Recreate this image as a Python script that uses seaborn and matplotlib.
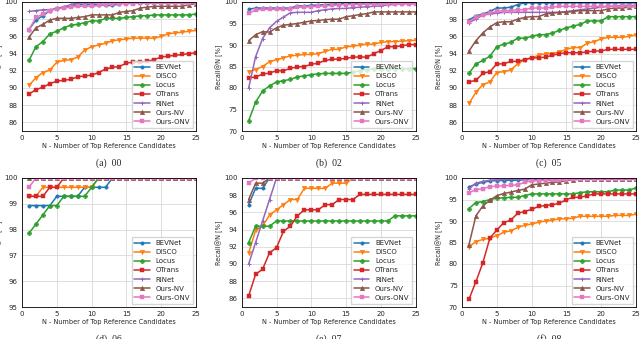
import matplotlib
matplotlib.use("Agg")
import matplotlib.pyplot as plt
import numpy as np
import seaborn as sns

N = list(range(1, 26))
METHODS = ["BEVNet", "DISCO", "Locus", "OTrans", "RINet", "Ours-NV", "Ours-ONV"]
COLORS = ["#1f77b4", "#ff7f0e", "#2ca02c", "#d62728", "#9467bd", "#8c564b", "#e377c2"]
MARKERS = [".", "v", "P", "s", "+", "^", "s"]

# ---- sequence 00 ----
s00_bevnet = [96.8, 97.9, 98.4, 99.0, 99.3, 99.4, 99.6, 99.7, 99.7, 99.7, 99.7, 99.6, 99.6,
              99.8, 99.9, 99.9, 99.9, 99.9, 99.9, 99.9, 99.9, 99.9, 99.9, 99.9, 99.9]
s00_disco = [90.3, 91.2, 91.8, 92.1, 93.0, 93.2, 93.3, 93.6, 94.4, 94.8, 95.0, 95.2, 95.5,
             95.6, 95.7, 95.8, 95.8, 95.8, 95.8, 96.0, 96.3, 96.4, 96.5, 96.6, 96.7]
s00_locus = [93.2, 94.8, 95.4, 96.3, 96.6, 97.0, 97.3, 97.4, 97.6, 97.8, 97.8, 98.1, 98.1,
             98.1, 98.2, 98.3, 98.4, 98.4, 98.5, 98.5, 98.5, 98.5, 98.5, 98.5, 98.6]
s00_otrans = [89.3, 89.8, 90.1, 90.5, 90.8, 90.9, 91.0, 91.3, 91.4, 91.5, 91.8, 92.2, 92.4,
              92.5, 92.9, 93.0, 93.0, 93.1, 93.3, 93.6, 93.7, 93.8, 93.9, 94.0, 94.1]
s00_rinet = [98.9, 99.0, 99.1, 99.1, 99.2, 99.4, 99.7, 99.9, 99.9, 99.9, 99.9, 99.9, 99.9,
             99.9, 99.9, 100.0, 100.0, 100.0, 100.0, 100.0, 100.0, 100.0, 100.0, 100.0, 100.0]
s00_oursnv = [95.9, 97.0, 97.4, 97.9, 98.1, 98.1, 98.1, 98.2, 98.3, 98.5, 98.5, 98.5, 98.5,
              98.8, 98.9, 99.0, 99.3, 99.4, 99.5, 99.5, 99.5, 99.5, 99.5, 99.7, 99.8]
s00_oursonv = [96.8, 98.2, 98.6, 99.0, 99.2, 99.3, 99.4, 99.5, 99.5, 99.5, 99.6, 99.7, 99.8,
               99.8, 99.8, 99.8, 99.9, 99.9, 99.9, 99.9, 99.9, 99.9, 99.9, 99.9, 99.9]

# ---- sequence 02 ----
s02_bevnet = [98.3, 98.6, 98.6, 98.6, 98.6, 98.6, 98.6, 99.1, 99.1, 99.2, 99.3, 99.4, 99.5,
              99.6, 99.7, 99.7, 99.7, 99.7, 99.7, 99.8, 99.8, 99.8, 99.8, 99.8, 99.8]
s02_disco = [83.8, 84.3, 85.0, 86.1, 86.6, 87.0, 87.5, 87.6, 87.8, 87.8, 88.0, 88.5, 89.0,
             89.0, 89.6, 89.7, 90.0, 90.2, 90.2, 90.6, 90.8, 90.8, 90.9, 91.0, 91.1]
s02_locus = [72.4, 76.7, 79.3, 80.5, 81.4, 81.7, 82.0, 82.6, 82.8, 83.1, 83.3, 83.4, 83.4,
             83.4, 83.4, 83.7, 84.0, 84.3, 84.5, 84.5, 84.5, 84.5, 84.5, 84.5, 84.5]
s02_otrans = [82.3, 82.6, 83.2, 83.5, 84.0, 84.0, 84.6, 84.9, 85.0, 85.5, 85.8, 86.4, 86.7,
              86.7, 86.9, 87.2, 87.2, 87.2, 88.0, 88.7, 89.6, 89.6, 89.8, 90.1, 90.1]
s02_rinet = [80.0, 87.3, 91.5, 94.0, 95.5, 96.5, 97.5, 97.6, 97.6, 97.6, 98.0, 98.2, 98.4,
             98.5, 98.5, 98.7, 98.8, 98.9, 99.0, 99.1, 99.3, 99.5, 99.6, 99.6, 99.6]
s02_oursnv = [91.0, 92.4, 93.1, 93.0, 94.0, 94.6, 94.8, 95.0, 95.3, 95.6, 95.7, 95.9, 96.0,
              96.0, 96.6, 96.8, 97.1, 97.3, 97.7, 97.7, 97.7, 97.7, 97.7, 97.7, 97.7]
s02_oursonv = [97.4, 98.1, 98.3, 98.3, 98.3, 98.3, 98.3, 98.8, 98.8, 98.9, 99.0, 99.1, 99.2,
               99.3, 99.4, 99.4, 99.5, 99.5, 99.5, 99.5, 99.6, 99.6, 99.6, 99.6, 99.6]

# ---- sequence 05 ----
s05_bevnet = [97.9, 98.4, 98.6, 98.9, 99.3, 99.3, 99.4, 99.7, 99.9, 99.9, 99.9, 99.9, 99.9,
              99.9, 99.9, 99.9, 99.9, 99.9, 99.9, 99.9, 99.9, 99.9, 99.9, 99.9, 99.9]
s05_disco = [88.2, 89.5, 90.4, 90.7, 91.8, 91.9, 92.1, 92.8, 93.3, 93.5, 93.8, 94.0, 94.0,
             94.2, 94.5, 94.7, 94.7, 95.2, 95.4, 95.7, 95.9, 95.9, 95.9, 96.0, 96.2]
s05_locus = [91.7, 92.8, 93.2, 93.7, 94.8, 95.1, 95.3, 95.8, 95.8, 96.0, 96.2, 96.2, 96.4,
             96.7, 97.0, 97.2, 97.4, 97.8, 97.8, 97.8, 98.3, 98.3, 98.3, 98.3, 98.3]
s05_otrans = [90.7, 90.9, 91.7, 91.9, 92.8, 92.8, 93.1, 93.1, 93.3, 93.5, 93.5, 93.6, 93.8,
              94.0, 94.1, 94.1, 94.1, 94.2, 94.3, 94.3, 94.5, 94.5, 94.5, 94.5, 94.5]
s05_rinet = [97.6, 98.0, 98.5, 98.6, 98.7, 98.8, 98.8, 98.8, 98.8, 98.8, 98.8, 98.8, 98.8,
             98.8, 98.9, 99.0, 99.1, 99.2, 99.3, 99.4, 99.5, 99.5, 99.6, 99.6, 99.6]
s05_oursnv = [94.3, 95.5, 96.4, 97.1, 97.6, 97.7, 97.7, 98.0, 98.2, 98.3, 98.3, 98.6, 98.7,
              98.8, 98.8, 98.9, 99.0, 99.0, 99.0, 99.0, 99.2, 99.3, 99.3, 99.4, 99.5]
s05_oursonv = [97.7, 98.2, 98.5, 98.7, 98.9, 99.0, 99.0, 99.1, 99.1, 99.3, 99.3, 99.3, 99.4,
               99.5, 99.5, 99.5, 99.5, 99.5, 99.5, 99.5, 99.5, 99.5, 99.5, 99.5, 99.5]

# ---- sequence 06 ----
s06_bevnet = [98.93, 98.93, 98.93, 98.93, 99.29, 99.29, 99.29, 99.29, 99.64, 99.64, 99.64, 99.64,
              100, 100, 100, 100, 100, 100, 100, 100, 100, 100, 100, 100, 100]
s06_disco = [99.29, 99.29, 99.64, 99.64, 99.64, 99.64, 99.64, 99.64, 99.64, 99.64, 100, 100,
             100, 100, 100, 100, 100, 100, 100, 100, 100, 100, 100, 100, 100]
s06_locus = [97.86, 98.21, 98.57, 98.93, 98.93, 99.29, 99.29, 99.29, 99.29, 99.64, 100, 100,
             100, 100, 100, 100, 100, 100, 100, 100, 100, 100, 100, 100, 100]
s06_otrans = [99.29, 99.29, 99.29, 99.64, 99.64, 100, 100, 100, 100, 100, 100, 100,
              100, 100, 100, 100, 100, 100, 100, 100, 100, 100, 100, 100, 100]
s06_rinet = [100] * 25
s06_oursnv = [100] * 25
s06_oursonv = [99.64, 100, 100, 100, 100, 100, 100, 100, 100, 100, 100, 100,
               100, 100, 100, 100, 100, 100, 100, 100, 100, 100, 100, 100, 100]

# ---- sequence 07 ----
s07_bevnet = [96.9, 98.8, 98.8, 100, 100, 100, 100, 100, 100, 100, 100, 100, 100,
              100, 100, 100, 100, 100, 100, 100, 100, 100, 100, 100, 100]
s07_disco = [91.3, 93.9, 94.4, 95.7, 96.3, 96.9, 97.5, 97.5, 98.8, 98.8, 98.8, 98.8, 99.4,
             99.4, 99.4, 100, 100, 100, 100, 100, 100, 100, 100, 100, 100]
s07_locus = [92.5, 94.4, 94.4, 94.4, 95.0, 95.0, 95.0, 95.0, 95.0, 95.0, 95.0, 95.0, 95.0,
             95.0, 95.0, 95.0, 95.0, 95.0, 95.0, 95.0, 95.0, 95.6, 95.6, 95.6, 95.6]
s07_otrans = [86.3, 88.8, 89.4, 91.3, 91.9, 93.8, 94.4, 95.6, 96.3, 96.3, 96.3, 96.9, 96.9,
              97.5, 97.5, 97.5, 98.1, 98.1, 98.1, 98.1, 98.1, 98.1, 98.1, 98.1, 98.1]
s07_rinet = [90.0, 92.5, 95.0, 97.5, 100, 100, 100, 100, 100, 100, 100, 100, 100,
             100, 100, 100, 100, 100, 100, 100, 100, 100, 100, 100, 100]
s07_oursnv = [97.5, 99.4, 99.4, 100, 100, 100, 100, 100, 100, 100, 100, 100, 100,
              100, 100, 100, 100, 100, 100, 100, 100, 100, 100, 100, 100]
s07_oursonv = [99.4, 100, 100, 100, 100, 100, 100, 100, 100, 100, 100, 100, 100,
               100, 100, 100, 100, 100, 100, 100, 100, 100, 100, 100, 100]

# ---- sequence 08 ----
s08_bevnet = [97.9, 98.6, 99.0, 99.3, 99.4, 99.4, 99.5, 99.5, 99.6, 99.7, 99.7, 99.7, 99.7,
              99.8, 99.8, 99.8, 99.8, 99.8, 99.8, 99.8, 99.8, 99.8, 99.8, 99.8, 99.8]
s08_disco = [84.0, 85.2, 85.7, 86.0, 86.6, 87.4, 87.7, 88.5, 89.0, 89.3, 89.7, 90.0, 90.2,
             90.5, 90.5, 90.7, 91.1, 91.1, 91.1, 91.1, 91.1, 91.3, 91.3, 91.3, 91.6]
s08_locus = [92.9, 94.3, 94.5, 95.0, 95.3, 95.4, 95.5, 95.5, 95.9, 96.3, 96.3, 96.3, 96.3,
             96.3, 96.3, 96.3, 96.6, 96.8, 96.8, 96.8, 96.8, 97.2, 97.2, 97.2, 97.7]
s08_otrans = [71.8, 75.9, 80.3, 86.0, 87.9, 89.6, 90.2, 91.8, 92.2, 92.7, 93.4, 93.6, 93.8,
              94.1, 95.0, 95.5, 95.5, 95.9, 96.3, 96.3, 96.3, 96.3, 96.3, 96.3, 96.3]
s08_rinet = [97.5, 98.8, 99.2, 99.5, 99.6, 99.7, 99.7, 99.7, 99.7, 99.8, 99.8, 99.8, 99.8,
             99.8, 99.8, 99.8, 99.8, 99.8, 99.8, 99.8, 99.8, 99.8, 99.8, 99.8, 99.8]
s08_oursnv = [84.5, 91.2, 93.5, 94.8, 95.9, 96.4, 96.7, 97.1, 97.4, 98.4, 98.6, 98.8, 99.0,
              99.1, 99.4, 99.6, 99.7, 99.7, 99.7, 99.7, 99.7, 99.7, 99.7, 99.7, 99.7]
s08_oursonv = [96.6, 97.3, 97.5, 98.0, 98.1, 98.2, 98.3, 98.4, 99.0, 99.3, 99.4, 99.4, 99.5,
               99.5, 99.5, 99.7, 99.8, 99.8, 99.8, 99.8, 99.8, 99.8, 99.8, 99.8, 99.8]

PANELS = [
    ("(a)  00", (85, 100), [86, 88, 90, 92, 94, 96, 98, 100],
     [s00_bevnet, s00_disco, s00_locus, s00_otrans, s00_rinet, s00_oursnv, s00_oursonv]),
    ("(b)  02", (70, 100), [70, 75, 80, 85, 90, 95, 100],
     [s02_bevnet, s02_disco, s02_locus, s02_otrans, s02_rinet, s02_oursnv, s02_oursonv]),
    ("(c)  05", (85, 100), [86, 88, 90, 92, 94, 96, 98, 100],
     [s05_bevnet, s05_disco, s05_locus, s05_otrans, s05_rinet, s05_oursnv, s05_oursonv]),
    ("(d)  06", (95, 100), [95, 96, 97, 98, 99, 100],
     [s06_bevnet, s06_disco, s06_locus, s06_otrans, s06_rinet, s06_oursnv, s06_oursonv]),
    ("(e)  07", (85, 100), [86, 88, 90, 92, 94, 96, 98, 100],
     [s07_bevnet, s07_disco, s07_locus, s07_otrans, s07_rinet, s07_oursnv, s07_oursonv]),
    ("(f)  08", (70, 100), [70, 75, 80, 85, 90, 95, 100],
     [s08_bevnet, s08_disco, s08_locus, s08_otrans, s08_rinet, s08_oursnv, s08_oursonv]),
]

sns.set_style("whitegrid", {"axes.edgecolor": "black", "grid.color": "#d9d9d9"})
plt.rcParams["font.family"] = ["DejaVu Sans"]

fig = plt.figure(figsize=(6.4, 3.39), dpi=100)

lefts = [22 / 640, 241.7 / 640, 462 / 640]
bottoms = [1 - 131 / 339, 1 - 307 / 339]
w, h = 174 / 640, 129 / 339

for i, (caption, ylim, yticks, series) in enumerate(PANELS):
    row, col = divmod(i, 3)
    ax = fig.add_axes([lefts[col], bottoms[row], w, h])
    for name, vals, c, m in zip(METHODS, series, COLORS, MARKERS):
        sns.lineplot(x=N, y=vals, ax=ax, color=c, marker=m,
                     markersize=5 if m == "." else 3.3,
                     markeredgewidth=0.7 if m == "+" else 0.3, markeredgecolor=c,
                     linewidth=1.1, label=name)
    ax.set_xlim(0, 25)
    ax.set_ylim(*ylim)
    ax.set_xticks([0, 5, 10, 15, 20, 25])
    ax.set_yticks(yticks)
    ax.tick_params(labelsize=5, length=2, width=0.5, pad=1)
    for sp in ax.spines.values():
        sp.set_linewidth(0.6)
    ax.grid(linewidth=0.6)
    ax.set_xlabel("N - Number of Top Reference Candidates", fontsize=4.7, labelpad=1.5)
    ax.set_ylabel("Recall@N [%]", fontsize=4.7, labelpad=1)
    ax.legend(loc="lower right", fontsize=5, frameon=True, handlelength=2.2,
              labelspacing=0.45, borderpad=0.4, handletextpad=0.8, fancybox=False,
              edgecolor="#cccccc")
    ax.text(0.5, -0.21, caption, transform=ax.transAxes, ha="center", va="top",
            fontsize=7, family=["Liberation Serif"])

fig.savefig("out.png", dpi=100)
